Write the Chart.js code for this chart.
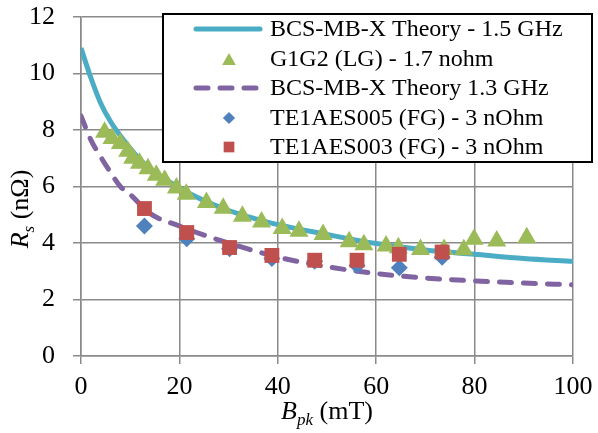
<!DOCTYPE html>
<html>
<head>
<meta charset="utf-8">
<script src="https://cdn.jsdelivr.net/npm/chart.js@4/dist/chart.umd.min.js"></script>
<style>
  html, body { margin: 0; padding: 0; background: #fff; }
  #wrap { width: 598px; height: 433px; }
</style>
</head>
<body>
<div id="wrap"><canvas id="rsChart" width="598" height="433"></canvas></div>
<script>
// Theory curves
const bcs15X = [0, 2, 4, 6, 8, 10, 12, 15, 20, 25, 30, 35, 40, 50, 60, 70, 80, 90, 100];
const bcs15Y = [10.9, 9.85, 8.95, 8.3, 7.8, 7.35, 6.95, 6.5, 5.95, 5.5, 5.15, 4.88, 4.65, 4.3, 3.98, 3.75, 3.6, 3.45, 3.35];

const bcs13X = [0, 2, 4, 6, 8, 10, 14, 20, 25, 30, 40, 50, 60, 70, 80, 90, 100];
const bcs13Y = [8.5, 7.65, 7.05, 6.5, 6.0, 5.72, 5.05, 4.6, 4.28, 4.0, 3.5, 3.16, 2.92, 2.76, 2.66, 2.58, 2.52];

// G1G2 (LG) measurements
const g1g2X = [4.8, 6.3, 8.0, 9.5, 10.5, 11.9, 13.6, 15.3, 17.0, 19.4, 21.4, 25.5, 28.9, 32.8, 36.7, 40.9, 44.3, 49.2, 54.5, 57.5, 62.0, 64.5, 69.0, 73.8, 77.8, 79.9, 84.5, 90.6];
const g1g2Y = [7.92, 7.7, 7.52, 7.25, 7.0, 6.82, 6.63, 6.4, 6.22, 5.95, 5.73, 5.43, 5.23, 4.95, 4.74, 4.51, 4.42, 4.3, 4.04, 3.94, 3.89, 3.83, 3.77, 3.77, 3.76, 4.13, 4.07, 4.19];

// TE1AES005 / TE1AES003 (FG)
const fgX = [12.9, 21.5, 30.2, 38.8, 47.5, 56.1, 64.7, 73.4];
const te005Y = [4.6, 4.15, 3.8, 3.45, 3.35, 3.2, 3.12, 3.5];
const te003Y = [5.22, 4.37, 3.84, 3.56, 3.39, 3.39, 3.6, 3.68];

const seriesLabels = [
    'BCS-MB-X Theory - 1.5 GHz',
    'G1G2 (LG) - 1.7 nohm',
    'BCS-MB-X Theory 1.3 GHz',
    'TE1AES005 (FG) - 3 nOhm',
    'TE1AES003 (FG) - 3 nOhm',
];
const xTicks = [0, 20, 40, 60, 80, 100];
const yTicks = [0, 2, 4, 6, 8, 10, 12];

const serif = "'Liberation Serif', 'Times New Roman', serif";
const gridGrey = '#8a8a8a';

function pts(xs, ys) {
    return xs.map((x, i) => ({ x: x, y: ys[i] }));
}

// legend box + axis titles with italic / subscript parts
const extrasPlugin = {
    id: 'extras',
    afterDraw(chart) {
        const ctx = chart.ctx;
        ctx.save();

        // legend
        ctx.fillStyle = '#fff';
        ctx.fillRect(163, 14, 429, 148);
        ctx.strokeStyle = '#000';
        ctx.lineWidth = 2;
        ctx.strokeRect(163, 14, 429, 148);

        const rowY = [29, 59, 88, 118, 147];
        chart.data.datasets.forEach((ds, i) => {
            const y = rowY[i];
            if (ds.showLine) {
                ctx.save();
                ctx.strokeStyle = ds.borderColor;
                ctx.lineWidth = ds.borderWidth;
                ctx.lineCap = 'round';
                ctx.setLineDash(ds.borderDash || []);
                ctx.beginPath();
                ctx.moveTo(196, y);
                ctx.lineTo(260, y);
                ctx.stroke();
                ctx.restore();
            } else {
                ctx.save();
                ctx.fillStyle = ds.backgroundColor;
                ctx.strokeStyle = ds.backgroundColor;
                ctx.lineWidth = 0;
                Chart.helpers.drawPoint(ctx, {
                    pointStyle: ds.pointStyle,
                    radius: ds.pointRadius * 0.72,
                    rotation: 0,
                    borderWidth: 0,
                }, 229, y + (ds.pointStyle === 'triangle' ? 2 : 0));
                ctx.restore();
            }
            ctx.fillStyle = '#000';
            ctx.font = '24px ' + serif;
            ctx.textAlign = 'left';
            ctx.textBaseline = 'middle';
            ctx.fillText(ds.label, 270, y + 1);
        });

        // pieces: [text, italic, subscript]
        function drawParts(parts, cx, baseY) {
            const widths = parts.map(p => {
                ctx.font = (p[1] ? 'italic ' : '') + (p[2] ? '17px ' : '26px ') + serif;
                return ctx.measureText(p[0]).width;
            });
            let x = cx - widths.reduce((a, b) => a + b, 0) / 2;
            ctx.textAlign = 'left';
            ctx.textBaseline = 'alphabetic';
            parts.forEach((p, i) => {
                ctx.font = (p[1] ? 'italic ' : '') + (p[2] ? '17px ' : '26px ') + serif;
                ctx.fillText(p[0], x, baseY + (p[2] ? 6 : 0));
                x += widths[i];
            });
        }
        ctx.fillStyle = '#000';
        const area = chart.chartArea;
        drawParts([['B', true, false], ['pk', true, true], [' (mT)', false, false]], (area.left + area.right) / 2, 419);

        ctx.save();
        ctx.translate(28, 209);
        ctx.rotate(-Math.PI / 2);
        drawParts([['R', true, false], ['s', true, true], [' (n\u03A9)', false, false]], 0, 0);
        ctx.restore();

        ctx.restore();
    }
};

const ctx = document.getElementById('rsChart').getContext('2d');
new Chart(ctx, {
    type: 'scatter',
    data: {
        datasets: [
            {
                label: seriesLabels[0],
                data: pts(bcs15X, bcs15Y),
                showLine: true,
                borderColor: '#4bacc6',
                backgroundColor: '#4bacc6',
                borderWidth: 5,
                pointRadius: 0,
                cubicInterpolationMode: 'monotone',
                order: 5,
            },
            {
                label: seriesLabels[1],
                data: pts(g1g2X, g1g2Y),
                showLine: false,
                pointStyle: 'triangle',
                pointRadius: 11,
                backgroundColor: '#9bbb59',
                borderColor: '#9bbb59',
                borderWidth: 0,
                order: 4,
            },
            {
                label: seriesLabels[2],
                data: pts(bcs13X, bcs13Y),
                showLine: true,
                borderColor: '#8064a2',
                backgroundColor: '#8064a2',
                borderWidth: 5,
                borderDash: [12, 12],
                borderCapStyle: 'round',
                pointRadius: 0,
                cubicInterpolationMode: 'monotone',
                order: 3,
            },
            {
                label: seriesLabels[3],
                data: pts(fgX, te005Y),
                showLine: false,
                pointStyle: 'rectRot',
                pointRadius: 8.5,
                backgroundColor: '#4f81bd',
                borderColor: '#4f81bd',
                borderWidth: 0,
                order: 2,
            },
            {
                label: seriesLabels[4],
                data: pts(fgX, te003Y),
                showLine: false,
                pointStyle: 'rect',
                pointRadius: 10.5,
                backgroundColor: '#c0504d',
                borderColor: '#c0504d',
                borderWidth: 0,
                order: 1,
            },
        ],
    },
    options: {
        responsive: false,
        animation: false,
        events: [],
        layout: { padding: { left: 0, top: 17, right: 25, bottom: 0 } },
        plugins: {
            legend: { display: false },
            tooltip: { enabled: false },
        },
        scales: {
            x: {
                type: 'linear',
                min: 0,
                max: 100,
                afterBuildTicks: (s) => { s.ticks = xTicks.map(v => ({ value: v })); },
                afterFit: (s) => { s.height = 77; s.paddingLeft = 0; s.paddingRight = 0; },
                grid: { color: gridGrey, lineWidth: 1.5, tickLength: 8, tickColor: gridGrey },
                border: { color: gridGrey, width: 1.5 },
                ticks: { color: '#000', padding: 8, maxRotation: 0, font: { family: serif, size: 26 } },
            },
            y: {
                type: 'linear',
                min: 0,
                max: 12,
                afterBuildTicks: (s) => { s.ticks = yTicks.map(v => ({ value: v })); },
                afterFit: (s) => { s.width = 81; s.paddingTop = 0; s.paddingBottom = 0; },
                grid: { color: gridGrey, lineWidth: 1.5, tickLength: 8, tickColor: gridGrey },
                border: { color: gridGrey, width: 1.5 },
                ticks: { color: '#000', padding: 18, font: { family: serif, size: 26 } },
            },
        },
    },
    plugins: [extrasPlugin],
});
</script>
</body>
</html>
